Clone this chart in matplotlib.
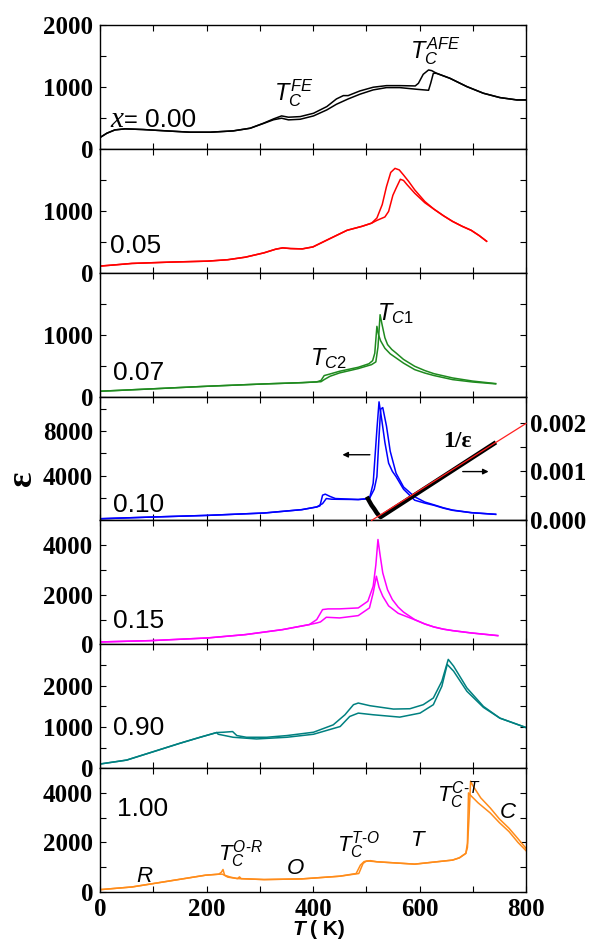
import matplotlib
matplotlib.use("Agg")
import matplotlib.pyplot as plt
from matplotlib.ticker import FixedLocator

plt.rcParams["mathtext.fontset"] = "custom"
plt.rcParams["mathtext.it"] = "Liberation Sans:italic"
plt.rcParams["mathtext.rm"] = "Liberation Sans"
plt.rcParams["mathtext.cal"] = "Liberation Sans:italic"

SERIF = "Liberation Serif"
SANS = "Liberation Sans"

# ---- dados (T em K, epsilon) ----
# x = 0.00 (preto)
t00_a = [0, 13, 28, 47, 81, 125, 169, 207, 250, 282, 307, 326, 341, 354, 376, 401, 426, 444,
         457, 466, 488, 513, 538, 563, 592, 598, 607, 617, 623, 632, 657, 689, 720, 751, 783, 800]
e00_a = [183, 253, 306, 323, 312, 290, 269, 269, 290, 333, 414, 484, 532, 511, 521, 575, 683, 806,
         860, 860, 935, 995, 1021, 1021, 1016, 1059, 1204, 1274, 1263, 1220, 1140, 1005, 898, 828,
         790, 790]
t00_b = [0, 13, 28, 47, 81, 125, 169, 207, 250, 282, 307, 326, 341, 354, 376, 401, 426, 444,
         466, 488, 513, 538, 563, 595, 617, 621, 626, 632, 657, 689, 720, 751, 783, 800]
e00_b = [183, 253, 306, 323, 312, 290, 269, 269, 290, 333, 410, 470, 495, 468, 478, 532, 629, 720,
         806, 882, 952, 989, 989, 962, 946, 1059, 1220, 1220, 1140, 1005, 898, 828, 790, 790]

# x = 0.05 (vermelho)
t05_a = [0, 30, 60, 131, 202, 240, 273, 308, 330, 343, 358, 380, 400, 428, 464, 492, 510,
         520, 530, 538, 546, 554, 562, 570, 580, 591, 610, 627, 645, 662, 680, 697, 712, 726]
e05_a = [107, 128, 150, 171, 187, 210, 251, 321, 380, 401, 390, 385, 417, 535, 685, 749, 800,
         883, 1100, 1391, 1620, 1685, 1660, 1578, 1470, 1338, 1150, 1027, 920, 829, 750, 685, 600,
         508]
t05_b = [0, 30, 60, 131, 202, 240, 273, 308, 330, 343, 358, 380, 400, 428, 464, 492, 510,
         520, 535, 542, 550, 556, 564, 570, 577, 591, 610, 627, 645, 662, 680, 697, 712, 726]
e05_b = [107, 128, 150, 171, 187, 210, 251, 321, 380, 401, 390, 385, 417, 535, 685, 749, 800,
         845, 900, 990, 1250, 1364, 1509, 1490, 1418, 1284, 1130, 1027, 920, 829, 750, 685, 600,
         508]

# x = 0.07 (verde)
t07_a = [0, 96, 202, 308, 380, 407, 415, 421, 430, 450, 485, 505, 512, 516, 520, 523, 527, 535,
         545, 556, 570, 591, 610, 627, 662, 700, 743]
e07_a = [86, 124, 167, 204, 225, 237, 260, 339, 360, 409, 473, 530, 580, 700, 1134, 1000, 900,
         780, 690, 624, 540, 435, 380, 340, 274, 235, 205]
t07_b = [0, 96, 202, 308, 380, 407, 415, 421, 432, 450, 485, 510, 518, 522, 526, 530, 535, 540,
         548, 556, 570, 591, 610, 627, 662, 700, 743]
e07_b = [86, 124, 167, 204, 225, 237, 240, 274, 328, 382, 452, 516, 560, 800, 1322, 1150, 950,
         840, 760, 704, 600, 489, 420, 370, 301, 250, 210]

# x = 0.10 (azul) + 1/eps
t10_a = [0, 96, 202, 308, 379, 407, 413, 418, 423, 432, 442, 485, 506, 513, 520, 524, 529, 535,
         542, 549, 556, 570, 591, 610, 627, 645, 662, 697, 743]
e10_a = [151, 302, 453, 664, 966, 1208, 1300, 2264, 2355, 2150, 1962, 1872, 1962, 3321, 8151,
         10627, 9057, 7000, 5132, 4400, 3925, 2800, 1811, 1550, 1358, 1100, 906, 694, 543]
t10_b = [0, 96, 202, 308, 379, 407, 418, 425, 435, 485, 506, 515, 520, 524, 527, 531, 538, 545,
         556, 570, 591, 610, 627, 645, 662, 697, 743]
e10_b = [151, 302, 453, 664, 966, 1208, 1510, 1962, 1902, 1872, 1962, 2800, 3925, 7500, 9963,
         10114, 8453, 6200, 4227, 3000, 2113, 1650, 1400, 1130, 930, 700, 550]
t10_inv = [503, 510, 515, 520, 524, 527, 740]
inv10 = [0.000445, 0.000310, 0.000235, 0.000150, 0.000098, 0.000069, 0.00157]
t10_fit = [510, 800]
inv10_fit = [0.0, 0.00198]

# x = 0.15 (magenta)
t15_a = [0, 96, 202, 273, 343, 393, 407, 418, 428, 450, 485, 503, 513, 518, 522, 526, 531, 540,
         549, 560, 570, 591, 610, 627, 645, 662, 697, 747]
e15_a = [94, 148, 256, 391, 593, 795, 997, 1401, 1428, 1430, 1468, 1738, 2344, 3200, 4230, 3600,
         2883, 2200, 1805, 1500, 1300, 997, 820, 700, 610, 552, 458, 350]
t15_b = [0, 96, 202, 273, 343, 393, 407, 414, 425, 450, 485, 506, 513, 519, 524, 531, 542, 560,
         591, 610, 627, 645, 662, 697, 747]
e15_b = [94, 148, 256, 391, 593, 795, 860, 902, 1091, 1064, 1158, 1468, 2074, 2748, 2300, 1940,
         1550, 1250, 990, 820, 700, 610, 552, 458, 350]

# x = 0.90 (teal)
t90_a = [0, 50, 100, 150, 188, 219, 232, 249, 257, 275, 313, 351, 401, 438, 460, 476, 485, 507,
         551, 582, 607, 626, 642, 654, 664, 689, 720, 751, 800]
e90_a = [100, 195, 398, 602, 748, 862, 870, 886, 789, 748, 748, 789, 870, 1049, 1293, 1537, 1577,
         1512, 1431, 1439, 1537, 1699, 2106, 2634, 2472, 1943, 1496, 1211, 984]
t90_b = [0, 50, 100, 150, 188, 219, 222, 250, 294, 351, 401, 451, 469, 485, 513, 563, 601, 626,
         642, 652, 664, 689, 720, 751, 800]
e90_b = [100, 195, 398, 602, 748, 862, 821, 748, 707, 748, 821, 1008, 1252, 1333, 1293, 1236,
         1333, 1537, 1984, 2512, 2350, 1862, 1472, 1211, 984]

# x = 1.00 (laranja)
t100_a = [0, 60, 131, 198, 223, 228, 231, 234, 245, 258, 262, 265, 308, 379, 450, 481, 489, 496,
          505, 520, 591, 662, 675, 687, 690, 692, 696, 710, 733, 750, 768, 785, 800]
e100_a = [95, 203, 447, 678, 719, 800, 908, 678, 600, 542, 610, 540, 502, 529, 637, 746, 1085,
          1230, 1250, 1220, 1125, 1288, 1380, 1559, 1966, 4000, 3900, 3600, 3187, 2800, 2441, 2000,
          1668]
t100_b = [0, 60, 131, 198, 223, 230, 240, 258, 308, 379, 450, 486, 494, 500, 508, 520, 591, 662,
          675, 687, 690, 693, 696, 700, 715, 733, 750, 768, 785, 800]
e100_b = [95, 203, 447, 678, 719, 720, 600, 542, 502, 529, 637, 746, 1153, 1250, 1265, 1220,
          1125, 1288, 1380, 1559, 1800, 3000, 4475, 4300, 3800, 3390, 2950, 2576, 2150, 1763]

paineis = [
    # (curvas, cor, ylim, major, minor)
    ((t00_a, e00_a, t00_b, e00_b), "black", 2000, [0, 1000, 2000], [500, 1500]),
    ((t05_a, e05_a, t05_b, e05_b), "#ff0000", 2000, [0, 1000], [500, 1500]),
    ((t07_a, e07_a, t07_b, e07_b), "#1f8a1f", 2000, [0, 1000], [500, 1500]),
    ((t10_a, e10_a, t10_b, e10_b), "#0000ff", 11100, [4000, 8000], [2000, 6000, 10000]),
    ((t15_a, e15_a, t15_b, e15_b), "#ff00ff", 5000, [0, 2000, 4000], [1000, 3000]),
    ((t90_a, e90_a, t90_b, e90_b), "#008080", 3000, [0, 1000, 2000], [500, 1500, 2500]),
    ((t100_a, e100_a, t100_b, e100_b), "#ff8c1a", 5000, [0, 2000, 4000], [1000, 3000]),
]

W, H = 591, 941
fig = plt.figure(figsize=(W / 100, H / 100), dpi=100)
gs = fig.add_gridspec(7, 1, left=100 / W, right=526 / W, top=1 - 25 / H, bottom=1 - 892 / H,
                      hspace=0)
axes = []
for i, (cv, cor, ymax, maj, mnr) in enumerate(paineis):
    ax = fig.add_subplot(gs[i])
    ta, ea, tb, eb = cv
    ax.plot(ta, ea, color=cor, lw=1.1)
    ax.plot(tb, eb, color=cor, lw=1.1)
    ax.set_xlim(0, 800)
    ax.set_ylim(0, ymax)
    ax.xaxis.set_major_locator(FixedLocator([0, 200, 400, 600, 800]))
    ax.xaxis.set_minor_locator(FixedLocator([100, 300, 500, 700]))
    ax.yaxis.set_major_locator(FixedLocator(maj))
    ax.yaxis.set_minor_locator(FixedLocator(mnr))
    ax.tick_params(which="both", direction="in", top=True, right=(i != 3), length=4, width=0.8,
                   labelsize=18, pad=5)
    for lb in ax.get_yticklabels() + ax.get_xticklabels():
        lb.set_fontfamily(SERIF)
        lb.set_fontweight("bold")
    if i < 6:
        ax.tick_params(labelbottom=False)
    else:
        ax.tick_params(axis="x", pad=4)
    for s in ax.spines.values():
        s.set_linewidth(1.0)
    axes.append(ax)

rot = dict(fontfamily=SANS, fontsize=19, ha="left", va="baseline")
ax1, ax2, ax3, ax4, ax5, ax6, ax7 = axes

# rótulos de composição
ax1.text(20, 360, "x", fontfamily=SERIF, style="italic", fontsize=21, ha="left", va="baseline")
ax1.text(45, 360, "=", fontfamily=SANS, fontsize=17, ha="left", va="baseline")
ax1.text(85, 360, "0.00", **rot)
ax2.text(18, 321, "0.05", **rot)
ax3.text(25, 263, "0.07", **rot)
ax4.text(25, 755, "0.10", **rot)
ax5.text(25, 660, "0.15", **rot)
ax6.text(25, 805, "0.90", **rot)
ax7.text(32, 3051, "1.00", **rot)

# temperaturas de transição
lab = dict(fontsize=17, ha="left", va="baseline")
ax1.text(327, 790, r"$T_C^{FE}$", **lab)
ax1.text(582, 1462, r"$T_C^{AFE}$", **lab)
ax3.text(520, 1242, r"$T_{C1}$", **lab)
ax3.text(394, 516, r"$T_{C2}$", **lab)
lab7 = dict(fontsize=16, ha="left", va="baseline")
ax7.text(67, 407, r"$R$", **lab7)
ax7.text(222, 1288, r"$T_C^{O\text{-}R}$", **lab7)
ax7.text(349, 746, r"$O$", **lab7)
ax7.text(446, 1627, r"$T_C^{T\text{-}O}$", **lab7)
ax7.text(583, 1858, r"$T$", **lab7)
ax7.text(632, 3661, r"$T_C^{C\text{-}T}$", **lab7)
ax7.text(750, 2983, r"$C$", **lab7)

# eixo direito do painel x = 0.10 (1/eps)
ax4r = ax4.twinx()
ax4r.plot(t10_fit, inv10_fit, color="#ff2020", lw=0.9, zorder=3, clip_on=False)
ax4r.plot(t10_inv, inv10, color="black", lw=3.2, zorder=2)
ax4r.set_ylim(0, 0.00253)
ax4r.yaxis.set_major_locator(FixedLocator([0, 0.001, 0.002]))
ax4r.yaxis.set_minor_locator(FixedLocator([0.0005, 0.0015]))
ax4r.set_yticklabels(["0.000", "0.001", "0.002"])
ax4r.tick_params(which="both", direction="in", length=4, width=0.8, labelsize=18, pad=3)
for lb in ax4r.get_yticklabels():
    lb.set_fontfamily(SERIF)
    lb.set_fontweight("bold")
ax4.annotate("", xy=(450, 5887), xytext=(512, 5887),
             arrowprops=dict(arrowstyle="-|>", color="black", lw=1.0, mutation_scale=8))
ax4.annotate("", xy=(735, 4378), xytext=(676, 4378),
             arrowprops=dict(arrowstyle="-|>", color="black", lw=1.0, mutation_scale=8))
ax4.text(672, 7095, "1/ε", fontfamily=SERIF, fontweight="bold", fontsize=17,
         ha="center", va="center")

# rótulos dos eixos
fig.text(22 / W, 1 - 478 / H, "ε", rotation=90, fontfamily=SERIF, fontweight="bold",
         fontsize=26, ha="center", va="center")
fig.text(293 / W, 1 - 935 / H, "T", fontfamily=SANS, style="italic", fontweight="bold",
         fontsize=15, ha="left", va="baseline")
fig.text(310 / W, 1 - 935 / H, "( K)", fontfamily=SANS, fontweight="bold",
         fontsize=15, ha="left", va="baseline")

fig.savefig("out.png", dpi=100)
